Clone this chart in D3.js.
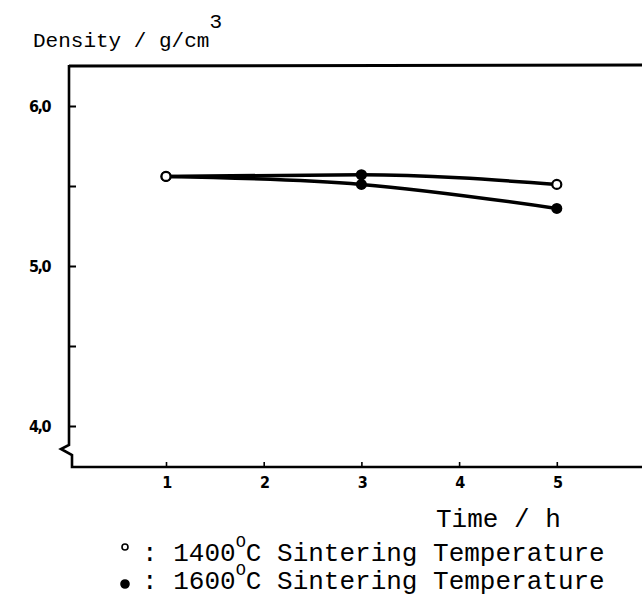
<!DOCTYPE html>
<html><head><meta charset="utf-8">
<script src="https://cdn.jsdelivr.net/npm/d3@7"></script>
<style>
body{margin:0;background:#fff;}
svg{display:block;}
.tick text{font-family:"Liberation Sans Narrow","DejaVu Sans Condensed","Liberation Sans",Arial,sans-serif;font-weight:bold;font-size:16px;fill:#000;letter-spacing:-1.5px;}
.mono{font-family:"Liberation Mono","Courier New",monospace;fill:#000;}
</style>
</head><body>
<script>
const times = [1, 3, 5];
const density1400 = [5.56, 5.57, 5.51];
const density1600 = [5.56, 5.51, 5.36];
const xTicks = [1, 2, 3, 4, 5];
const yTicks = [4.0, 4.5, 5.0, 5.5, 6.0];
const yTickLabels = {"4":"4,0","5":"5,0","6":"6,0"};

const W = 642, H = 597;
const svg = d3.select("body").append("svg").attr("width", W).attr("height", H);

const x = d3.scaleLinear().domain([0, 6]).range([68.3, 654.5]);
const y = d3.scaleLinear().domain([4, 6]).range([426, 106]);
const axisX0 = 69, topY = 65, bottomY = 467;

// frame lines
svg.append("path")
  .attr("d", `M${axisX0},${topY+1}L${W},${topY}`)
  .attr("stroke","#000").attr("stroke-width",3).attr("fill","none");
svg.append("path")
  .attr("d", `M${axisX0},${topY}L${axisX0},445L61,449L72,455L72,${bottomY}L${W},${bottomY}`)
  .attr("stroke","#000").attr("stroke-width",2.6).attr("fill","none").attr("stroke-linejoin","miter");

// x axis ticks
const gx = svg.append("g").attr("transform", `translate(0,${bottomY})`)
  .call(d3.axisBottom(x).tickValues(xTicks).tickSizeInner(-5).tickSizeOuter(0).tickPadding(10).tickFormat(d3.format("d")));
gx.select(".domain").remove();
gx.selectAll(".tick line").attr("stroke","#000").attr("stroke-width",1.6);

// y axis ticks
const gy = svg.append("g").attr("transform", `translate(${axisX0},0)`)
  .call(d3.axisLeft(y).tickValues(yTicks).tickSizeInner(-7).tickSizeOuter(0).tickPadding(19)
    .tickFormat(d => yTickLabels[String(d)] || ""));
gy.select(".domain").remove();
gy.selectAll(".tick line").attr("stroke","#000").attr("stroke-width",2);

// series lines
const line = d3.line().x((d,i)=>x(times[i])).y(d=>y(d)).curve(d3.curveMonotoneX);
[density1600, density1400].forEach(s => {
  svg.append("path").datum(s).attr("d", line)
    .attr("fill","none").attr("stroke","#000").attr("stroke-width",3.5);
});

// markers
svg.selectAll(".m1600").data(density1600).enter().append("circle")
  .attr("cx",(d,i)=>x(times[i])).attr("cy",d=>y(d)).attr("r",5.5).attr("fill","#000");
svg.selectAll(".m1400").data(density1400).enter().append("circle")
  .attr("cx",(d,i)=>x(times[i])).attr("cy",d=>y(d)).attr("r",4.5)
  .attr("fill",(d,i)=> i===1 ? "#000" : "#fff").attr("stroke","#000").attr("stroke-width",2.2);

// y axis title
const t = svg.append("text").attr("class","mono").attr("x",33).attr("y",47).attr("font-size",21);
t.append("tspan").text("Density / g/cm");
t.append("tspan").attr("dy",-19).attr("font-size",21).text("3");

// x axis title
svg.append("text").attr("class","mono").attr("x",436).attr("y",527).attr("font-size",26).text("Time / h");

// legend
const legendItems = ["1400", "1600"];
legendItems.forEach((lab, i) => {
  const by = 561 + i*28;
  svg.append("circle").attr("cx",125).attr("cy", i===0 ? by-14 : by-5).attr("r",i===0?3:4)
    .attr("fill", i===0 ? "#fff" : "#000").attr("stroke","#000").attr("stroke-width",1.6);
  const tx = svg.append("text").attr("class","mono").attr("x",142).attr("y",by).attr("font-size",26);
  tx.append("tspan").text(": " + lab);
  tx.append("tspan").attr("dy",-14).attr("font-size",17).text("O");
  tx.append("tspan").attr("dy",14).text("C Sintering Temperature");
});
</script>
</body></html>
